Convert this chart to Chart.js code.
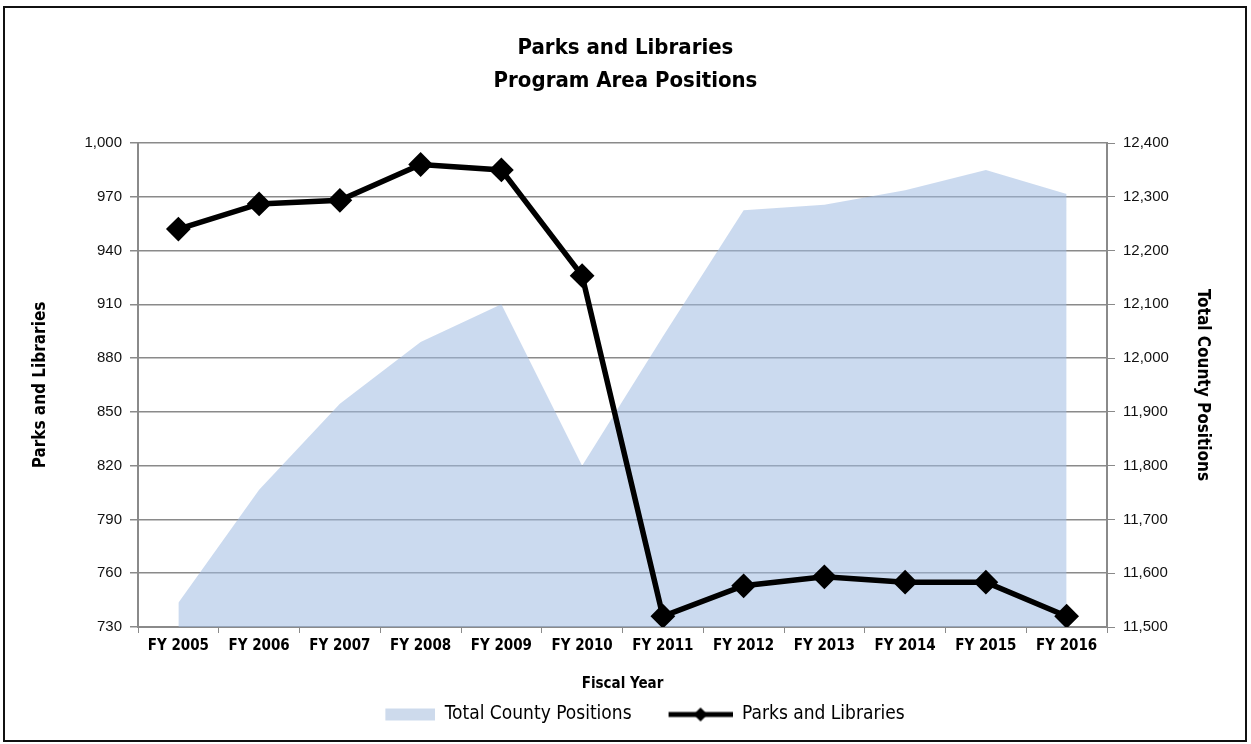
<!DOCTYPE html>
<html>
<head>
<meta charset="utf-8">
<script src="https://cdn.jsdelivr.net/npm/chart.js@4.4.1/dist/chart.umd.min.js"></script>
<style>
  html, body { margin: 0; padding: 0; background: #ffffff; }
  #wrap { position: relative; width: 1251px; height: 744px; }
  #frame { position: absolute; left: 3px; top: 6px; width: 1240px; height: 732px; border: 2px solid #111; pointer-events: none; }
  canvas { position: absolute; left: 0; top: 0; }
</style>
</head>
<body>
<div id="wrap">
  <canvas id="c" width="1251" height="744"></canvas>
  <div id="frame"></div>
</div>
<script>
// ---- data ----
const categories = ["FY 2005","FY 2006","FY 2007","FY 2008","FY 2009","FY 2010","FY 2011","FY 2012","FY 2013","FY 2014","FY 2015","FY 2016"];
const totalCountyPositions = [11545, 11755, 11915, 12030, 12100, 11800, 12040, 12275, 12285, 12312, 12350, 12305];
const parksAndLibraries = [952, 966, 968, 988, 985, 926, 736, 753, 758, 755, 755, 736];
const chartTitle = ["Parks and Libraries", "Program Area Positions"];
const leftAxisTitle = "Parks and Libraries";
const rightAxisTitle = "Total County Positions";
const xAxisTitle = "Fiscal Year";
const legendLabels = ["Total County Positions", "Parks and Libraries"];

const narrow = "'DejaVu Sans Condensed', 'Liberation Sans Narrow', sans-serif";
const regular = "'Liberation Sans', Arial, sans-serif";
const areaColor = "rgba(160,188,225,0.55)";

// legend icons (transparent left margin gives the spacing between legend entries)
const ICON_W = 89;
function areaIcon() {
  const c = document.createElement('canvas'); c.width = ICON_W; c.height = 16;
  const g = c.getContext('2d'); g.fillStyle = 'rgb(205,218,236)'; g.fillRect(ICON_W - 50, 2, 50, 12); return c;
}
function lineIcon() {
  const c = document.createElement('canvas'); c.width = ICON_W; c.height = 16;
  const g = c.getContext('2d');
  const x0 = ICON_W - 64;
  g.strokeStyle = '#000'; g.lineWidth = 5; g.beginPath(); g.moveTo(x0, 8); g.lineTo(ICON_W, 8); g.stroke();
  const cx = x0 + 32;
  g.fillStyle = '#000'; g.beginPath(); g.moveTo(cx, 1); g.lineTo(cx + 7, 8); g.lineTo(cx, 15); g.lineTo(cx - 7, 8); g.closePath(); g.fill();
  return c;
}
const icons = [areaIcon(), lineIcon()];

new Chart(document.getElementById('c'), {
  data: {
    labels: categories,
    datasets: [
      {
        type: 'line', label: legendLabels[1], data: parksAndLibraries, yAxisID: 'y',
        borderColor: '#000', backgroundColor: '#000', borderWidth: 5.5,
        pointStyle: 'rectRot', pointRadius: 8.5, pointHoverRadius: 8.5, pointBackgroundColor: '#000',
        tension: 0, order: 0
      },
      {
        type: 'line', label: legendLabels[0], data: totalCountyPositions, yAxisID: 'y1',
        borderWidth: 0, borderColor: 'rgba(0,0,0,0)', backgroundColor: areaColor,
        fill: 'start', pointRadius: 0, tension: 0, order: 1
      }
    ]
  },
  options: {
    responsive: false, animation: false,
    layout: { padding: { left: 30, right: 30, top: 17, bottom: 10 } },
    plugins: {
      title: {
        display: true, text: chartTitle, color: '#000',
        font: { family: narrow, size: 22, weight: 'bold', lineHeight: '33px' },
        padding: { top: 15, bottom: 45 }
      },
      legend: {
        position: 'bottom',
        labels: {
          usePointStyle: true, pointStyleWidth: ICON_W, boxHeight: 14,
          color: '#000', font: { family: narrow, size: 19 }, padding: 12,
          generateLabels: (chart) => {
            return [
              { text: legendLabels[0], pointStyle: icons[0], datasetIndex: 1, fontColor: '#000', lineWidth: 0, strokeStyle: 'rgba(0,0,0,0)', fillStyle: 'rgba(0,0,0,0)' },
              { text: legendLabels[1], pointStyle: icons[1], datasetIndex: 0, fontColor: '#000', lineWidth: 0, strokeStyle: 'rgba(0,0,0,0)', fillStyle: 'rgba(0,0,0,0)' }
            ];
          }
        }
      },
      tooltip: { enabled: false }
    },
    scales: {
      x: {
        type: 'category', offset: true,
        grid: { display: true, drawOnChartArea: false, offset: true, color: '#8a8a8a', tickLength: 6 },
        border: { color: '#8a8a8a', width: 2 },
        ticks: { color: '#000', font: { family: narrow, size: 15, weight: 'bold' }, maxRotation: 0, padding: 4 },
        title: { display: true, text: xAxisTitle, color: '#000', font: { family: narrow, size: 15, weight: 'bold' }, padding: { top: 4, bottom: 0 } },
        afterFit: (s) => { s.height = 66; }
      },
      y: {
        position: 'left', min: 730, max: 1000,
        ticks: { stepSize: 30, color: '#111', font: { family: regular, size: 15 }, padding: 8,
                 callback: (v) => v.toLocaleString('en-US') },
        grid: { color: '#8a8a8a', lineWidth: 1.5, tickLength: 8 },
        border: { color: '#8a8a8a', width: 2 },
        title: { display: true, text: leftAxisTitle, color: '#000', font: { family: narrow, size: 17, weight: 'bold' }, padding: { top: 0, bottom: 8 } },
        afterFit: (s) => { s.width = 108; }
      },
      y1: {
        position: 'right', min: 11500, max: 12400,
        ticks: { stepSize: 100, color: '#111', font: { family: regular, size: 15 }, padding: 8,
                 callback: (v) => v.toLocaleString('en-US') },
        grid: { drawOnChartArea: false, color: '#8a8a8a', tickLength: 8 },
        border: { color: '#8a8a8a', width: 2 },
        title: { display: true, text: rightAxisTitle, color: '#000', font: { family: narrow, size: 17, weight: 'bold' }, padding: { top: 8, bottom: 0 } },
        afterFit: (s) => { s.width = 114; }
      }
    }
  }
});
</script>
</body>
</html>
